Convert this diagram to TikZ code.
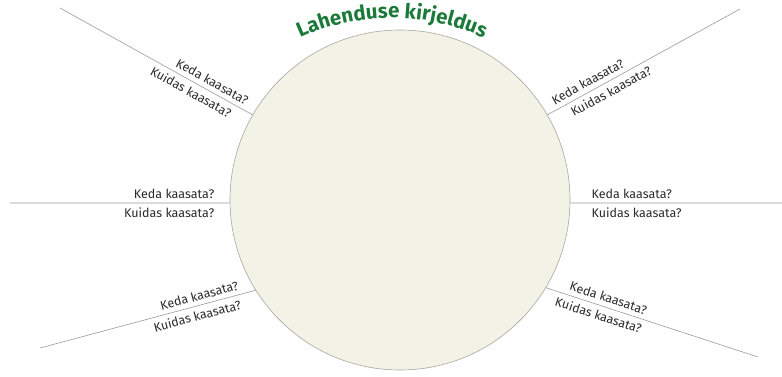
\documentclass[tikz,border=0pt]{standalone}
\usepackage{fontspec}
\setmainfont{Fira Sans}
\usetikzlibrary{decorations.text}
\definecolor{titlegreen}{HTML}{1B7A3A}
\definecolor{discfill}{HTML}{F2F2E6}
\definecolor{discedge}{HTML}{A8A8A0}
\definecolor{linegray}{HTML}{9A9A9A}
\definecolor{textgray}{HTML}{2A2A2A}
\tikzset{
  spoke/.style={draw=linegray, line width=0.6pt},
  ask/.style={sloped, inner xsep=2pt, inner ysep=4.5pt, text=textgray, font=\fontsize{12.5}{14}\selectfont}
}

\begin{document}
\begin{tikzpicture}[x=1pt,y=1pt]
				\useasboundingbox (-400,-176) rectangle (382,200);
				\node (disc) [circle, draw=discedge, fill=discfill, line width=0.6pt, minimum size=340pt, inner sep=0pt] at (0,0) {};
				% outer ends of the spokes
				\coordinate (ul) at (-340,192);
				\coordinate (ur) at (340,191);
				\coordinate (ml) at (-390,-3);
				\coordinate (mr) at (382,-3);
				\coordinate (ll) at (-360,-148);
				\coordinate (lr) at (358,-157);
				\draw[spoke] (ul) -- node (ulk) [ask, pos=0.96, anchor=south east] {Keda kaasata?}
					node (ulh) [ask, pos=0.92, anchor=north east] {Kuidas kaasata?} (disc.150);
				\draw[spoke] (disc.30) -- node (urk) [ask, pos=0.04, anchor=south west] {Keda kaasata?}
					node (urh) [ask, pos=0.09, anchor=north west] {Kuidas kaasata?} (ur);
				\draw[spoke] (ml) -- node (mlk) [ask, pos=0.94, anchor=south east] {Keda kaasata?}
					node (mlh) [ask, pos=0.94, anchor=north east] {Kuidas kaasata?} (disc.181);
				\draw[spoke] (disc.-1) -- node (mrk) [ask, pos=0.09, anchor=south west] {Keda kaasata?}
					node (mrh) [ask, pos=0.09, anchor=north west] {Kuidas kaasata?} (mr);
				\draw[spoke] (ll) -- node (llk) [ask, pos=0.94, anchor=south east] {Keda kaasata?}
					node (llh) [ask, pos=0.93, anchor=north east] {Kuidas kaasata?} (disc.212);
				\draw[spoke] (disc.-31) -- node (lrk) [ask, pos=0.09, anchor=south west] {Keda kaasata?}
					node (lrh) [ask, pos=0.05, anchor=north west] {Kuidas kaasata?} (lr);
				% title on an arc
				\path[decorate, decoration={text along path, text align=center, text color=titlegreen,
					text={|\fontsize{20.5}{21}\selectfont\bfseries|Lahenduse kirjeldus}}]
					(-8,-38) ++(120:220) arc[start angle=120, end angle=60, radius=220];
			\end{tikzpicture}
\end{document}
